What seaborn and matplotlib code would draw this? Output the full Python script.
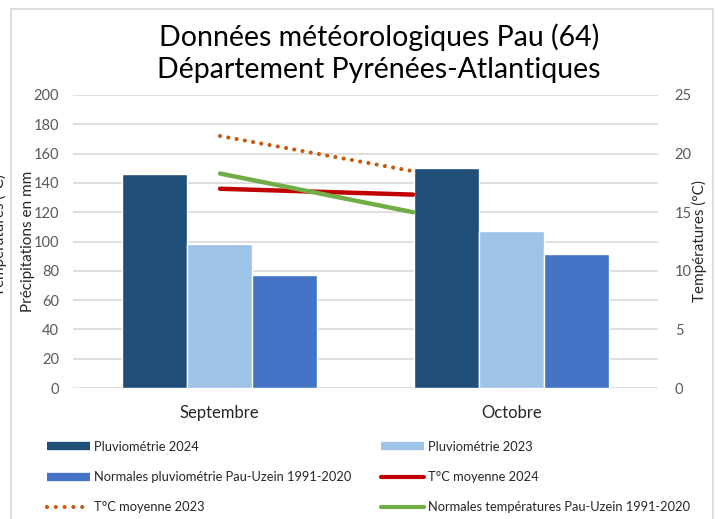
import numpy as np
import pandas as pd
import matplotlib
matplotlib.use("Agg")
import matplotlib.pyplot as plt
import seaborn as sns
from matplotlib.lines import Line2D
from matplotlib.patches import Rectangle

# données
mois = ["Septembre", "Octobre"]
pluvio_2024 = [146, 150]
pluvio_2023 = [98, 107]
pluvio_normales = [77, 91.5]
temp_2024 = [17.0, 16.5]
temp_2023 = [21.5, 18.5]
temp_normales = [18.3, 15.0]

series_bars = ["Pluviométrie 2024", "Pluviométrie 2023",
               "Normales pluviométrie Pau-Uzein 1991-2020"]
series_lines = ["T°C moyenne 2024", "T°C moyenne 2023",
                "Normales températures Pau-Uzein 1991-2020"]
couleurs_bars = ["#1F4E79", "#9DC3E6", "#4472C4"]
couleurs_lines = ["#C00000", "#C55A11", "#70AD47"]

df_bars = pd.DataFrame({
    "mois": mois * 3,
    "mm": pluvio_2024 + pluvio_2023 + pluvio_normales,
    "serie": sum([[s] * 2 for s in series_bars], []),
})
df_lines = pd.DataFrame({
    "mois": mois * 3,
    "temp": temp_2024 + temp_2023 + temp_normales,
    "serie": sum([[s] * 2 for s in series_lines], []),
})

sns.set_style("white")
plt.rcParams["font.family"] = ["Lato", "DejaVu Sans"]

W, H = 718, 519
fig = plt.figure(figsize=(W / 100, H / 100), dpi=100)

# zone de tracé (pixels 73..658 / 95..388)
pos = [73 / W, 1 - 388 / H, (658 - 73) / W, (388 - 95) / H]
ax = fig.add_axes(pos)
sns.barplot(data=df_bars, x="mois", y="mm", hue="serie", hue_order=series_bars,
            palette=couleurs_bars, saturation=1, width=2 / 3, gap=0,
            legend=False, ax=ax)
ax.set_xlim(-0.5, 1.5)
ax.set_ylim(0, 200)
ax.set_yticks(np.arange(0, 201, 20))
ax.grid(axis="y", color="#DCDCDC", lw=1.3)
ax.set_axisbelow(True)
for s in ax.spines.values():
    s.set_visible(False)
ax.tick_params(axis="both", length=0, colors="#595959", labelsize=10.5)
ax.tick_params(axis="x", labelsize=12, colors="#262626", pad=12)
ax.tick_params(axis="y", pad=10)
ax.set_xlabel("")
ax.set_ylabel("Précipitations en mm", fontsize=11, color="#262626", labelpad=-1)

# axe secondaire (températures) avec son propre axe horizontal
ax2 = fig.add_axes(pos)
ax2.patch.set_visible(False)
sns.lineplot(data=df_lines, x="mois", y="temp", hue="serie", style="serie",
             hue_order=series_lines, palette=couleurs_lines,
             dashes={series_lines[0]: "", series_lines[1]: (0.01, 2.0),
                     series_lines[2]: ""},
             lw=3.2, legend=False, ax=ax2, sort=False)
for ln in ax2.lines:
    ln.set_solid_capstyle("round")
    ln.set_dash_capstyle("round")
ax2.lines[1].set_linewidth(3.0)
ax2.set_xlim(-0.762, 2.269)
ax2.set_ylim(0, 25)
ax2.set_yticks(np.arange(0, 26, 5))
ax2.yaxis.tick_right()
ax2.yaxis.set_label_position("right")
ax2.set_xticks([])
ax2.set_xlabel("")
for s in ax2.spines.values():
    s.set_visible(False)
ax2.tick_params(axis="y", length=0, colors="#595959", labelsize=10.5, pad=12)
ax2.set_ylabel("Températures (°C)", fontsize=11, color="#262626", labelpad=0)

# titre
fig.text(379 / W, 1 - 53 / H,
         "Données météorologiques Pau (64)\nDépartement Pyrénées-Atlantiques",
         ha="center", va="center", fontsize=20.5, color="#000000", linespacing=1.3)

# titre d'axe fantôme coupé à gauche
fig.text(-1 / W, 1 - 235 / H, "Températures (°C)", rotation=90,
         ha="center", va="center", fontsize=11, color="#262626")

# cadre
fig.patches.append(Rectangle((11 / W, -0.05), (713 - 11) / W, 1.05 - 9 / H,
                             transform=fig.transFigure, fill=False,
                             edgecolor="#D9D9D9", lw=1.3))

# légende
def handle_bar(c):
    return Line2D([], [], color=c, lw=6, solid_capstyle="butt")

def handle_line(c, ls="-"):
    return Line2D([], [], color=c, lw=3, ls=ls, solid_capstyle="round",
                  dash_capstyle="round")

col1 = [handle_bar(couleurs_bars[0]), handle_bar(couleurs_bars[2]),
        handle_line(couleurs_lines[1], (0, (0.01, 2.1)))]
lab1 = [series_bars[0], series_bars[2], series_lines[1]]
col2 = [handle_bar(couleurs_bars[1]), handle_line(couleurs_lines[0]),
        handle_line(couleurs_lines[2])]
lab2 = [series_bars[1], series_lines[0], series_lines[2]]

kw = dict(loc="upper left", frameon=False, fontsize=9.3, handlelength=3.3,
          handletextpad=0.3, labelspacing=1.4, borderaxespad=0, borderpad=0,
          labelcolor="#262626")
fig.legend(col1, lab1, bbox_to_anchor=(47 / W, 1 - 441 / H), **kw)
fig.legend(col2, lab2, bbox_to_anchor=(381 / W, 1 - 441 / H), **kw)

fig.savefig("out.png", dpi=100)
